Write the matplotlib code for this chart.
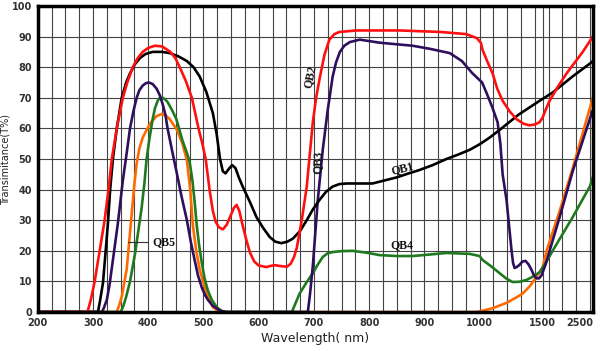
import numpy as np
import matplotlib
matplotlib.use("Agg")
import matplotlib.pyplot as plt

# wavelength ticks and their (uneven) positions on the original axis
tick_nm = [200, 300, 400, 500, 600, 700, 800, 900, 1000, 1500, 2500]
tick_pos = [0, 1, 2, 3, 4, 5, 6, 7, 8, 9.14, 10.05]
yticks = list(range(0, 101, 10))

qb1_nm = [200, 309, 313, 318, 322, 327, 331, 336, 343, 352, 360, 367, 376, 385, 395, 408, 425, 439,
          455, 470, 482, 493, 505, 517, 524, 530, 535, 540, 546, 552, 558, 564, 571, 584, 596, 608,
          620, 630, 641, 652, 662, 675, 687, 698, 710, 722, 734, 746, 759, 780, 806, 828, 850, 870,
          891, 915, 940, 962, 982, 1000, 1080, 1159, 1310, 1476, 1700, 2100, 2460, 2500]
qb1_t = [0, 0, 4, 9.5, 18, 29, 40, 50, 60, 70, 75, 78, 81, 83, 84.3, 85, 85, 84.6,
         83.5, 82, 80, 77, 72, 65, 58, 50, 46, 45.3, 46.8, 48, 47, 44, 41, 36, 31, 27.5,
         24.5, 23, 22.5, 23, 24, 26.5, 30, 33.5, 36.6, 39.3, 41, 41.8, 42, 42, 42, 43, 44, 45.2,
         46.4, 48, 50, 51.5, 53, 54.8, 57, 59.5, 64.5, 69, 71.7, 77, 81.4, 82]

qb2_nm = [200, 290, 296, 303, 312, 321, 328, 334, 343, 354, 362, 372, 381, 390, 400, 412, 425, 440,
          449, 457, 468, 479, 491, 498, 504, 511, 517, 522, 528, 535, 542, 548, 555, 560, 565, 570,
          577, 584, 592, 600, 614, 622, 630, 640, 651, 658, 664, 669, 678, 687, 698, 704, 710, 719,
          728, 737, 746, 777, 855, 930, 976, 995, 1010, 1024, 1060, 1103, 1140, 1183, 1240, 1294,
          1350, 1397, 1440, 1476, 1500, 1560, 1640, 1800, 1980, 2300, 2500]
qb2_t = [0, 0, 4, 10, 20, 30, 40, 50, 60, 70, 75, 80, 83, 85, 86.3, 87, 86.8, 85,
         83, 80, 75.5, 70, 60, 55, 50, 40, 33, 29.5, 27.7, 27, 28.5, 31, 34, 35, 33, 29,
         24, 19.5, 16.5, 15.2, 14.7, 15.1, 15.3, 15, 14.8, 15.8, 18, 21, 30, 41, 62, 70, 76, 84,
         89, 90.8, 91.5, 92, 92, 91.5, 90.8, 89.5, 88, 85.6, 82, 78, 73, 69, 65.5, 63,
         61.5, 61, 61.3, 62, 63.5, 66, 69, 73.5, 78, 85, 90]

qb3_nm = [200, 316, 320, 325, 330, 336, 345, 354, 361, 367, 373, 379, 384, 390, 396, 401, 408, 415,
          421, 426, 431, 435, 444, 451, 460, 470, 477, 484, 490, 497, 503, 508, 517, 530, 542, 689,
          693, 698, 707, 716, 725, 734, 740, 747, 755, 765, 783, 819, 879, 910, 946, 968, 987, 1020,
          1056, 1100, 1143, 1165, 1183, 1214, 1254, 1266, 1278, 1295, 1317, 1340, 1365, 1390, 1413,
          1432, 1452, 1472, 1492, 1560, 1640, 1840, 2100, 2200, 2500]
qb3_t = [0, 0, 1.5, 4, 9, 17, 29, 43, 52, 60, 65.5, 70, 72.5, 74, 74.8, 75, 74.5, 73,
         70.8, 68, 64.5, 60, 52, 46, 38, 30, 23, 17, 12, 8, 5.5, 4, 2, 0.5, 0, 0,
         6, 15, 36.6, 53, 66, 77, 81.5, 85, 87, 88.2, 89, 88, 87, 86, 84.6, 82, 78, 75,
         71.5, 67, 62, 55, 45, 36.6, 20, 16, 14.4, 14.7, 15.4, 16.5, 16.7, 15.5, 13.7,
         12, 11, 11, 12, 15.5, 20, 31, 46, 51, 66]

qb4_nm = [200, 350, 355, 360, 367, 376, 382, 388, 393, 397, 402, 408, 412, 417, 421, 426, 430, 435,
          443, 451, 462, 470, 475, 480, 484, 488, 492, 497, 502, 508, 515, 524, 535, 660, 667, 674,
          686, 698, 707, 716, 725, 734, 750, 770, 795, 819, 850, 879, 910, 940, 982, 1000, 1024,
          1090, 1159, 1210, 1262, 1320, 1373, 1420, 1476, 1580, 1700, 2100, 2440, 2500]
qb4_t = [0, 0, 2, 5, 10, 19, 26.5, 34, 42, 50, 56.5, 63, 66.5, 69, 70, 70, 69.6, 68.6,
         66, 63, 56, 52, 49, 43, 36, 28, 22, 16, 11, 7, 4, 1.6, 0, 0, 3, 6,
         9.5, 12.7, 15.5, 18, 19.2, 19.6, 19.9, 20, 19.4, 18.6, 18.3, 18.3, 18.8, 19.3, 19, 18.3, 17,
         15, 12.7, 11, 9.8, 9.9, 10.5, 11.5, 13, 16.5, 20, 31, 41, 44]

qb5_nm = [200, 343, 347, 352, 356, 361, 365, 370, 375, 379, 384, 390, 397, 405, 415, 424, 431, 439,
          452, 462, 470, 476, 481, 487, 493, 500, 506, 517, 528, 540, 995, 1100, 1214, 1280, 1341,
          1400, 1452, 1500, 1580, 1700, 1840, 2100, 2300, 2500]
qb5_t = [0, 0, 2, 5, 9, 14, 22, 32, 42, 48.5, 53.5, 57, 59.5, 62, 64, 64.7, 64.3, 63,
         59.5, 55, 49.5, 40, 28, 20, 14, 9.5, 6, 1.6, 0.3, 0, 0, 1.2, 3, 4.5, 6,
         8.5, 11.5, 14.5, 20, 26, 33, 47, 58.5, 70]


def fwd(x):
    return np.interp(x, tick_nm, tick_pos)


def inv(p):
    return np.interp(p, tick_pos, tick_nm)


fig = plt.figure(figsize=(6, 3.51), dpi=100)
ax = fig.add_axes([0.063, 0.111, 0.925, 0.872])
ax.set_xscale('function', functions=(fwd, inv))
ax.set_xlim(200, 2500)
ax.set_ylim(0, 100)

ax.set_xticks(tick_nm)
ax.set_xticklabels([str(t) for t in tick_nm])
ax.set_xticks(inv(np.arange(0.25, 10.05, 0.25)), minor=True)
ax.set_yticks(yticks)
ax.grid(True, which='both', axis='x', color='#444444', lw=0.8)
ax.grid(True, which='major', axis='y', color='#444444', lw=0.8)
ax.set_axisbelow(True)
ax.tick_params(which='both', length=0, labelsize=7, colors='#333333', pad=4)
for lab in ax.get_xticklabels() + ax.get_yticklabels():
    lab.set_fontweight('bold')
ax.get_xticklabels()[-1].set_horizontalalignment('right')
for s in ax.spines.values():
    s.set_linewidth(2.5)
    s.set_color('black')

lw = 1.9
ax.plot(qb5_nm, qb5_t, color='#ff6a00', lw=lw, solid_joinstyle='round')
ax.plot(qb4_nm, qb4_t, color='#1f7a1f', lw=lw, solid_joinstyle='round')
ax.plot(qb3_nm, qb3_t, color='#2e0f5e', lw=lw, solid_joinstyle='round')
ax.plot(qb1_nm, qb1_t, color='black', lw=lw, solid_joinstyle='round')
ax.plot(qb2_nm, qb2_t, color='#ff1010', lw=lw, solid_joinstyle='round')

lab = dict(family='Liberation Serif', fontweight='bold', fontsize=8.5, color='#111111',
           ha='center', va='center')
ax.text(693, 77, 'QB2', rotation=78, **lab)
ax.text(707, 49, 'QB3', rotation=88, **lab)
ax.text(860, 47, 'QB1', rotation=14, **lab)
ax.text(860, 22, 'QB4', **lab)
ax.text(428, 23, 'QB5', **lab)
ax.plot([363, 399], [23, 23], color='#333333', lw=0.8)

ax.set_xlabel('Wavelength( nm)', fontsize=9, color='#222222', labelpad=3)
ax.set_ylabel('Transimitance(T%)', fontsize=7, color='#222222', labelpad=1)

fig.savefig('out.png', dpi=100)
